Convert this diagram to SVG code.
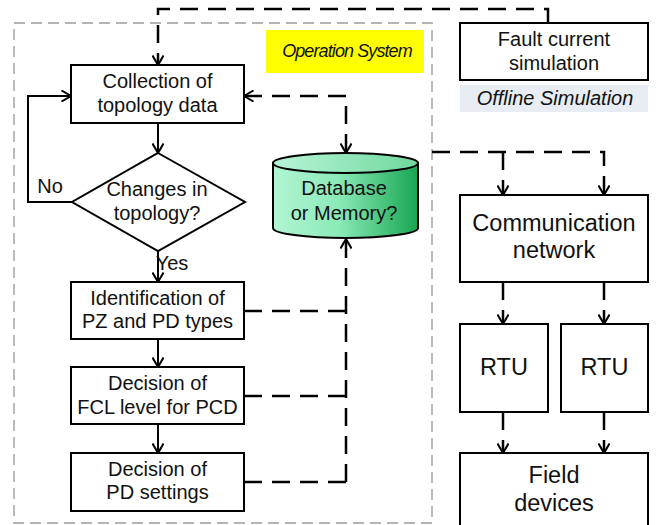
<svg xmlns="http://www.w3.org/2000/svg" width="656" height="525" viewBox="0 0 656 525">
  <defs>
    <style>
      .box{fill:#fff;stroke:#000;stroke-width:2}
      .t{font-family:"Liberation Sans",Arial,sans-serif;font-size:20px;fill:#111;text-anchor:middle}
      .big{font-size:23.5px}
      .solid{fill:none;stroke:#000;stroke-width:2}
      .dash{fill:none;stroke:#000;stroke-width:2.5;stroke-dasharray:18 10}
      .frame{fill:none;stroke:#b4b4b4;stroke-width:1.8;stroke-dasharray:11 6}
    </style>
    <marker id="arr" viewBox="0 0 12 12" refX="10.5" refY="6" markerWidth="12" markerHeight="12" markerUnits="userSpaceOnUse" orient="auto-start-reverse">
      <path d="M1,0.5 L10.5,6 L1,11.5" fill="none" stroke="#000" stroke-width="2" stroke-dasharray="none"/>
    </marker>
    <linearGradient id="dbBody" x1="0" y1="0" x2="1" y2="0">
      <stop offset="0" stop-color="#b2f5d3"/>
      <stop offset="0.45" stop-color="#8beab8"/>
      <stop offset="1" stop-color="#18a652"/>
    </linearGradient>
    <linearGradient id="dbTop" x1="0" y1="0" x2="1" y2="0">
      <stop offset="0" stop-color="#b9f5d6"/>
      <stop offset="1" stop-color="#6fd89e"/>
    </linearGradient>
  </defs>

  <rect width="656" height="525" fill="#fff"/>

  <!-- operation system frame -->
  <g id="operation-system">
    <rect class="frame" x="14" y="23" width="418" height="500"/>
    <rect x="266" y="30" width="158" height="43" fill="#ffff00"/>
    <text x="347" y="57" font-family="'Liberation Sans',Arial,sans-serif" font-size="18" font-style="italic" letter-spacing="-0.9" fill="#111" text-anchor="middle">Operation System</text>
  </g>

  <!-- connectors -->
  <g id="connectors">
    <path class="solid" d="M158,123 V153" marker-end="url(#arr)"/>
    <path class="solid" d="M158,251 V282" marker-end="url(#arr)"/>
    <path class="solid" d="M158,339 V367" marker-end="url(#arr)"/>
    <path class="solid" d="M158,424 V453" marker-end="url(#arr)"/>
    <path class="solid" d="M72,202 H28 V96 H71" marker-end="url(#arr)"/>

    <path class="dash" d="M548,23 V9 H158 V65" marker-end="url(#arr)"/>
    <path class="dash" d="M244,96 H346 V153" marker-start="url(#arr)" marker-end="url(#arr)"/>
    <path class="dash" d="M346,482 V239" marker-end="url(#arr)"/>
    <path class="dash" d="M244,311 H346"/>
    <path class="dash" d="M244,396 H346"/>
    <path class="dash" d="M244,482 H346"/>

    <path class="dash" d="M432,152 H604 V195" marker-end="url(#arr)"/>
    <path class="dash" d="M503,152 V195" marker-end="url(#arr)"/>
    <path class="dash" d="M503,282 V324" marker-end="url(#arr)"/>
    <path class="dash" d="M604,282 V324" marker-end="url(#arr)"/>
    <path class="dash" d="M503,412 V453" marker-end="url(#arr)"/>
    <path class="dash" d="M604,412 V453" marker-end="url(#arr)"/>
  </g>

  <g id="collection">
    <rect class="box" x="71" y="65" width="173" height="58"/>
    <text class="t" x="157.5" y="88">Collection of</text>
    <text class="t" x="157.5" y="112">topology data</text>
  </g>

  <g id="changes">
    <path class="box" d="M158,153 L245,202 L158,251 L72,202 Z"/>
    <text class="t" x="157" y="196">Changes in</text>
    <text class="t" x="157" y="220">topology?</text>
    <text class="t" x="50" y="193">No</text>
    <text class="t" x="172" y="270" text-anchor="start">Yes</text>
  </g>

  <g id="identification">
    <rect class="box" x="71" y="282" width="173" height="57"/>
    <text class="t" x="157.5" y="305">Identification of</text>
    <text class="t" x="157.5" y="328">PZ and PD types</text>
  </g>

  <g id="fcl-level">
    <rect class="box" x="71" y="367" width="173" height="57"/>
    <text class="t" x="157.5" y="390">Decision of</text>
    <text class="t" x="157.5" y="414">FCL level for PCD</text>
  </g>

  <g id="pd-settings">
    <rect class="box" x="71" y="453" width="173" height="58"/>
    <text class="t" x="157.5" y="476">Decision of</text>
    <text class="t" x="157.5" y="499">PD settings</text>
  </g>

  <g id="database">
    <path d="M273,163 V228 A72.5,10 0 0 0 418,228 V163 Z" fill="url(#dbBody)" stroke="#000" stroke-width="2"/>
    <ellipse cx="345.5" cy="163" rx="72.5" ry="10" fill="url(#dbTop)" stroke="#000" stroke-width="2"/>
    <text class="t" x="344" y="195" font-size="22.5">Database</text>
    <text class="t" x="344" y="220" font-size="22.5">or Memory?</text>
  </g>

  <g id="fault-current">
    <rect class="box" x="460" y="23" width="188" height="57"/>
    <text class="t" x="554" y="46">Fault current</text>
    <text class="t" x="554" y="70">simulation</text>
    <rect x="460" y="85" width="188" height="27" fill="#e8ecf3"/>
    <text class="t" x="555" y="105" font-size="19" font-style="italic" fill="#222">Offline Simulation</text>
  </g>

  <g id="communication">
    <rect class="box" x="460" y="195" width="188" height="87"/>
    <text class="t big" x="554" y="231">Communication</text>
    <text class="t big" x="554" y="258">network</text>
  </g>

  <g id="rtu-1">
    <rect class="box" x="460" y="324" width="88" height="88"/>
    <text class="t big" x="504" y="375">RTU</text>
  </g>

  <g id="rtu-2">
    <rect class="box" x="561" y="324" width="87" height="88"/>
    <text class="t big" x="604.5" y="375">RTU</text>
  </g>

  <g id="field-devices">
    <rect class="box" x="460" y="453" width="188" height="80"/>
    <text class="t big" x="554" y="483">Field</text>
    <text class="t big" x="554" y="511">devices</text>
  </g>
</svg>
